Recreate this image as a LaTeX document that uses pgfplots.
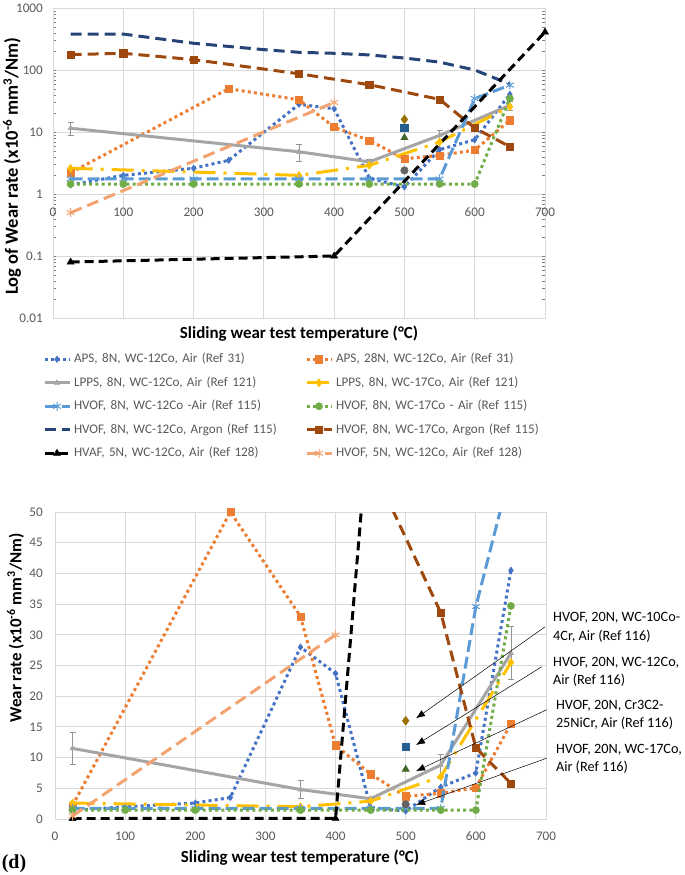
\documentclass[border=0pt]{standalone}
\usepackage{pgfplots}
\usepackage{pgfplotstable}
\pgfplotsset{compat=1.18}
\usepackage{fontspec}
\setmainfont{Carlito}
\newfontfamily\timesfont{Liberation Serif}
\usetikzlibrary{arrows.meta}
\definecolor{cBlue}{HTML}{4472C4}
\definecolor{cOrange}{HTML}{ED7D31}
\definecolor{cGray}{HTML}{A5A5A5}
\definecolor{cGold}{HTML}{FFC000}
\definecolor{cLBlue}{HTML}{5B9BD5}
\definecolor{cGreen}{HTML}{70AD47}
\definecolor{cNavy}{HTML}{264478}
\definecolor{cBrown}{HTML}{9E480E}
\definecolor{cPeach}{HTML}{F3A36F}
\definecolor{cDGold}{HTML}{997300}
\definecolor{cDBlue}{HTML}{255E91}
\definecolor{cDGreen}{HTML}{43682B}
\definecolor{cDGray}{HTML}{636363}
\definecolor{gridc}{HTML}{D9D9D9}
\definecolor{tickc}{HTML}{595959}

% APS, 8N, WC-12Co, Air (Ref 31)
\pgfplotstableread{
x y
25 1.4
100 2.0
200 2.6
250 3.5
350 28
400 23.7
450 1.8
500 1.3
550 5.2
600 7.5
650 40.5
}\tA
% APS, 28N, WC-12Co, Air (Ref 31)
\pgfplotstableread{
x y
25 2.2
250 50
350 33
400 12
450 7.3
500 3.7
550 4.2
600 5.1
650 15.5
}\tB
% LPPS, 8N, WC-12Co, Air (Ref 121)
\pgfplotstableread{
x y e
25 11.5 2.6
350 4.8 1.5
450 3.3 0.3
550 8.8 1.8
650 27 4.3
}\tC
% LPPS, 8N, WC-17Co, Air (Ref 121)
\pgfplotstableread{
x y
25 2.6
350 2.0
450 2.9
550 6.9
650 25.5
}\tD
% HVOF, 8N, WC-12Co - Air (Ref 115)
\pgfplotstableread{
x y
25 1.75
100 1.75
200 1.75
350 1.75
450 1.75
550 1.75
600 34.6
650 57
}\tE
% HVOF, 8N, WC-17Co - Air (Ref 115)
\pgfplotstableread{
x y
25 1.45
100 1.45
200 1.45
350 1.45
450 1.45
550 1.45
600 1.45
650 34.7
}\tF
% HVOF, 8N, WC-12Co, Argon (Ref 115)
\pgfplotstableread{
x y
25 380
100 380
200 270
300 213
350 193
400 186
450 175
500 156
550 134
600 100
650 59
}\tG
% HVOF, 8N, WC-17Co, Argon (Ref 115)
\pgfplotstableread{
x y
25 177
100 186
200 147
350 87
450 58
550 33.6
600 11.6
650 5.8
}\tH
% HVAF, 5N, WC-12Co, Air (Ref 128)
\pgfplotstableread{
x y
25 0.08
400 0.1
700 410
}\tI
% HVOF, 5N, WC-12Co, Air (Ref 128)
\pgfplotstableread{
x y
25 0.5
400 30
}\tJ
% Ref 116 single points at 500 C
\pgfplotstableread{
x y
500 16.0
}\tKa
\pgfplotstableread{
x y
500 11.8
}\tKb
\pgfplotstableread{
x y
500 8.1
}\tKc
\pgfplotstableread{
x y
500 2.4
}\tKd

\pgfplotsset{
  sA/.style={color=cBlue, line width=3bp, dash pattern=on 3bp off 3.2bp, mark=diamond*, mark size=3.2bp, mark options={solid, fill=cBlue, line width=0.5bp}},
  sB/.style={color=cOrange, line width=3bp, dash pattern=on 3bp off 3.2bp, mark=square*, mark size=3.6bp, mark options={solid, fill=cOrange, line width=0.5bp, line join=miter}},
  sC/.style={color=cGray, line width=3bp, solid, mark=triangle*, mark size=3bp, mark options={solid, fill=cGray, line width=0.5bp}},
  sD/.style={color=cGold, line width=3bp, dash pattern=on 22bp off 8bp on 3bp off 8bp, mark=diamond*, mark size=4bp, mark options={solid, fill=cGold, line width=0.5bp}},
  sE/.style={color=cLBlue, line width=3bp, dash pattern=on 12bp off 5bp, mark=asterisk, mark size=4.5bp, mark options={solid, line width=1bp}},
  sF/.style={color=cGreen, line width=3bp, dash pattern=on 3bp off 3.2bp, mark=*, mark size=3.6bp, mark options={solid, fill=cGreen, line width=0.5bp}},
  sG/.style={color=cNavy, line width=3bp, dash pattern=on 11bp off 6bp, mark=none},
  sH/.style={color=cBrown, line width=3bp, dash pattern=on 11bp off 6bp, mark=square*, mark size=3.6bp, mark options={solid, fill=cBrown, line width=0.5bp, line join=miter}},
  sI/.style={color=black, line width=3bp, dash pattern=on 9bp off 5bp, mark=triangle*, mark size=4bp, mark options={solid, fill=black, line width=0.5bp}},
  sJ/.style={color=cPeach, line width=3bp, dash pattern=on 12bp off 6bp, mark=asterisk, mark size=4.5bp, mark options={solid, line width=1bp}},
  errC/.style={error bars/.cd, y dir=both, y explicit,
    error bar style={line width=0.8bp, color=cGray!90!black, solid},
    error mark options={rotate=90, mark size=3bp, line width=0.8bp, color=cGray!90!black, solid}},
  common/.style={
    scale only axis,
    xmin=0, xmax=700, xtick={0,100,...,700},
    major tick length=0pt,
    grid=major,
    major grid style={draw=gridc, line width=0.9bp},
    axis line style={draw=gridc, line width=0.9bp},
    tick label style={font=\fontsize{13.2}{15}\selectfont, text=tickc, inner sep=0pt},
    /pgf/number format/assume math mode=true,
    /pgf/number format/1000 sep={},
    clip marker paths=false,
  },
}

\begin{document}
\begin{tikzpicture}
\useasboundingbox (0,0) rectangle (685bp,-875bp);

% ---------- Top chart (log) ----------
\begin{axis}[common,
  at={(53bp,-318bp)}, anchor=south west,
  width=492bp, height=310bp,
  ymode=log, ymin=0.01, ymax=1000,
  ytick={0.01,0.1,1,10,100,1000},
  yticklabels={0.01,0.1,1,10,100,1000},
  yminorgrids=false,
  xticklabel style={anchor=center, yshift=106bp},
  yticklabel style={anchor=east, xshift=-10bp},
  xlabel={Sliding wear test temperature (\textdegree C)},
  ylabel={Log of Wear rate (x10\textsuperscript{-6} mm\textsuperscript{3}/Nm)},
  xlabel style={at={(axis description cs:0.5,-0.0516)}, anchor=center, font=\bfseries\fontsize{17}{18}\selectfont},
  ylabel style={at={(axis description cs:-0.0833,0.49)}, anchor=center, font=\bfseries\fontsize{18.6}{20}\selectfont},
  legend columns=2,
  legend image code/.code={\draw[mark repeat=2,mark phase=2] plot coordinates {(0bp,0bp)(12.5bp,0bp)(25bp,0bp)};},
  legend style={draw=none, fill=none, inner sep=0pt, outer sep=0pt,
    at={(axis description cs:-0.0203,-0.113)}, anchor=north west,
    font=\fontsize{13.2}{15}\selectfont, text=tickc,
    row sep=11bp, column sep=3bp,
    nodes={inner sep=0pt, text width=228bp, align=left, text height=9.5bp, text depth=3bp}},
  legend cell align=left,
]
\addplot[sA] table[x=x,y=y]{\tA}; \addlegendentry{APS, 8N, WC-12Co, Air (Ref 31)}
\addplot[sB] table[x=x,y=y]{\tB}; \addlegendentry{APS, 28N, WC-12Co, Air (Ref 31)}
\addplot[sC, errC] table[x=x,y=y,y error=e]{\tC}; \addlegendentry{LPPS, 8N, WC-12Co, Air (Ref 121)}
\addplot[sD] table[x=x,y=y]{\tD}; \addlegendentry{LPPS, 8N, WC-17Co, Air (Ref 121)}
\addplot[sE] table[x=x,y=y]{\tE}; \addlegendentry{HVOF, 8N, WC-12Co -Air (Ref 115)}
\addplot[sF] table[x=x,y=y]{\tF}; \addlegendentry{HVOF, 8N, WC-17Co - Air (Ref 115)}
\addplot[sG] table[x=x,y=y]{\tG}; \addlegendentry{HVOF, 8N, WC-12Co, Argon (Ref 115)}
\addplot[sH] table[x=x,y=y]{\tH}; \addlegendentry{HVOF, 8N, WC-17Co, Argon (Ref 115)}
\addplot[sI] table[x=x,y=y]{\tI}; \addlegendentry{HVAF, 5N, WC-12Co, Air (Ref 128)}
\addplot[sJ] table[x=x,y=y]{\tJ}; \addlegendentry{HVOF, 5N, WC-12Co, Air (Ref 128)}
\addplot[forget plot, only marks, mark=diamond*, mark size=4.5bp, color=cDGold] table[x=x,y=y]{\tKa};
\addplot[forget plot, only marks, mark=square*, mark size=3.8bp, color=cDBlue] table[x=x,y=y]{\tKb};
\addplot[forget plot, only marks, mark=triangle*, mark size=4.2bp, color=cDGreen] table[x=x,y=y]{\tKc};
\addplot[forget plot, only marks, mark=*, mark size=3.8bp, color=cDGray] table[x=x,y=y]{\tKd};
\end{axis}

% ---------- Bottom chart (linear) ----------
\begin{axis}[common,
  at={(55bp,-819bp)}, anchor=south west,
  width=491bp, height=307bp,
  ymin=0, ymax=50, ytick={0,5,...,50},
  clip mode=individual,
  xticklabel style={anchor=center, yshift=-17bp},
  yticklabel style={anchor=east, xshift=-12bp},
  xlabel={Sliding wear test temperature (\textdegree C)},
  ylabel={Wear rate (x10\textsuperscript{-6} mm\textsuperscript{3}/Nm)},
  xlabel style={at={(axis description cs:0.499,-0.127)}, anchor=center, font=\bfseries\fontsize{17}{18}\selectfont},
  ylabel style={at={(axis description cs:-0.0804,0.622)}, anchor=center, font=\bfseries\fontsize{17}{18}\selectfont},
]
\addplot[sA] table[x=x,y=y]{\tA};
\addplot[sB] table[x=x,y=y]{\tB};
\addplot[sC, errC] table[x=x,y=y,y error=e]{\tC};
\addplot[sD] table[x=x,y=y]{\tD};
\addplot[sE] table[x=x,y=y]{\tE};
\addplot[sF] table[x=x,y=y]{\tF};
\addplot[sG] table[x=x,y=y]{\tG};
\addplot[sH] table[x=x,y=y]{\tH};
\addplot[sI] table[x=x,y=y]{\tI};
\addplot[sJ] table[x=x,y=y]{\tJ};
\addplot[only marks, mark=diamond*, mark size=4.5bp, color=cDGold] table[x=x,y=y]{\tKa};
\addplot[only marks, mark=square*, mark size=3.8bp, color=cDBlue] table[x=x,y=y]{\tKb};
\addplot[only marks, mark=triangle*, mark size=4.2bp, color=cDGreen] table[x=x,y=y]{\tKc};
\addplot[only marks, mark=*, mark size=3.8bp, color=cDGray] table[x=x,y=y]{\tKd};
% annotations
\begin{scope}[font=\fontsize{14.3}{18.3}\selectfont]
\node[anchor=west, align=left, inner sep=0pt] at (axis cs:710,31.2) {HVOF, 20N, WC-10Co-\\4Cr, Air (Ref 116)};
\node[anchor=west, align=left, inner sep=0pt] at (axis cs:710,24.0) {HVOF, 20N, WC-12Co,\\Air (Ref 116)};
\node[anchor=west, align=left, inner sep=0pt] at (axis cs:714,16.9) {HVOF, 20N, Cr3C2-\\25NiCr, Air (Ref 116)};
\node[anchor=west, align=left, inner sep=0pt] at (axis cs:714,9.85) {HVOF, 20N, WC-17Co,\\Air (Ref 116)};
\end{scope}
\draw[-{Latex[length=9bp,width=7bp]}, line width=0.5bp] (axis cs:698.6,31.3) -- (axis cs:514.7,16.4);
\draw[-{Latex[length=9bp,width=7bp]}, line width=0.5bp] (axis cs:694,24.8) -- (axis cs:514.7,12.05);
\draw[-{Latex[length=9bp,width=7bp]}, line width=0.5bp] (axis cs:701,17.8) -- (axis cs:514.7,7.8);
\draw[-{Latex[length=9bp,width=7bp]}, line width=0.5bp] (axis cs:701,9.9) -- (axis cs:514.7,2.3);
\end{axis}

\node[font=\timesfont\bfseries\fontsize{20}{22}\selectfont, anchor=center] at (14bp,-864bp) {(d)};
\end{tikzpicture}
\end{document}
